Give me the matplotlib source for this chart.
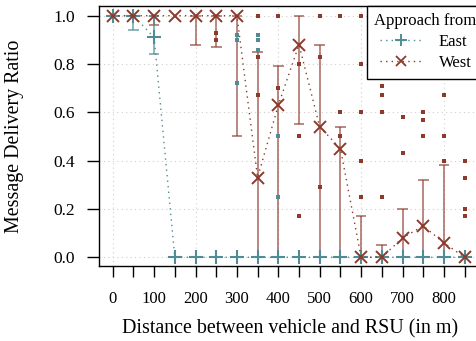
import matplotlib
matplotlib.use("Agg")
import matplotlib.pyplot as plt
from matplotlib.lines import Line2D

plt.rcParams['font.family'] = ['Liberation Serif', 'DejaVu Serif']
plt.rcParams['mathtext.fontset'] = 'stix'

# ---- data ----
distances = [0, 50, 100, 150, 200, 250, 300, 350, 400, 450, 500, 550, 600, 650, 700, 750, 800, 850]
east_mean = [1.0, 1.0, 0.91, 0.0, 0.0, 0.0, 0.0, 0.0, 0.0, 0.0, 0.0, 0.0, 0.0, 0.0, 0.0, 0.0, 0.0, 0.0]
west_mean = [1.0, 1.0, 1.0, 1.0, 1.0, 1.0, 1.0, 0.33, 0.63, 0.88, 0.54, 0.45, 0.0, 0.0, 0.08, 0.13, 0.06, 0.0]

east_whisk_lo = [1.0, 0.94, 0.84, 0.0, 0.0, 0.0, 0.0, 0.0, 0.0, 0.0, 0.0, 0.0, 0.0, 0.0, 0.0, 0.0, 0.0, 0.0]
east_whisk_hi = [1.0, 1.0, 1.0, 0.0, 0.0, 0.0, 0.0, 0.0, 0.0, 0.0, 0.0, 0.0, 0.0, 0.0, 0.0, 0.0, 0.0, 0.0]
west_whisk_lo = [1.0, 1.0, 0.96, 1.0, 0.88, 0.87, 0.50, 0.0, 0.0, 0.55, 0.0, 0.0, 0.0, 0.0, 0.0, 0.0, 0.0, 0.0]
west_whisk_hi = [1.0, 1.0, 1.0, 1.0, 1.0, 1.0, 1.0, 0.85, 0.79, 1.0, 0.88, 0.54, 0.17, 0.05, 0.20, 0.32, 0.38, 0.0]

east_flier_x = [300, 300, 300, 350, 350, 350, 400, 400]
east_flier_y = [0.92, 0.90, 0.72, 0.92, 0.90, 0.86, 0.50, 0.25]
west_flier_x = [250, 250, 350, 350, 350, 400, 400, 450, 450, 450, 500, 500, 500,
                550, 550, 550, 600, 600, 600, 600, 600, 650, 650, 650, 650,
                700, 700, 750, 750, 750, 800, 800, 800, 850, 850, 850, 850]
west_flier_y = [0.93, 0.90, 1.0, 0.83, 0.67, 1.0, 0.70, 0.80, 0.50, 0.17, 1.0, 0.83, 0.29,
                1.0, 0.60, 0.50, 1.0, 0.80, 0.60, 0.40, 0.25, 0.71, 0.67, 0.60, 0.25,
                0.58, 0.43, 0.60, 0.57, 0.50, 0.67, 0.50, 0.40, 0.40, 0.33, 0.20, 0.17]

x_ticks = list(range(0, 851, 50))
x_ticklabels = [str(v) if v % 100 == 0 and v <= 800 else '' for v in x_ticks]
y_ticks = [0.0, 0.2, 0.4, 0.6, 0.8, 1.0]
x_grid = [0, 200, 400, 600, 800]

series_names = ['East', 'West']

# ---- style ----
EAST = '#4f8c94'
WEST = '#8c3a2c'

fig = plt.figure(figsize=(4.76, 3.41), dpi=100)
ax = fig.add_axes([0.208, 0.22, 0.802, 0.763])

for g in y_ticks:
    ax.axhline(g, color='#cfcfcf', lw=0.8, ls=(0, (1, 3)), zorder=0)
for g in x_grid:
    ax.axvline(g, color='#cfcfcf', lw=0.8, ls=(0, (1, 3)), zorder=0)

def draw_whiskers(xs, lo, hi, color, alpha, z):
    for x, a, b in zip(xs, lo, hi):
        if a == b:
            continue
        ax.plot([x, x], [a, b], color=color, lw=1.3, alpha=alpha, zorder=z, solid_capstyle='butt')
        for c in (a, b):
            ax.plot([x - 13, x + 13], [c, c], color=color, lw=1.3, alpha=alpha, zorder=z, solid_capstyle='butt')

draw_whiskers(distances, west_whisk_lo, west_whisk_hi, WEST, 0.65, 2)
draw_whiskers(distances, east_whisk_lo, east_whisk_hi, EAST, 0.7, 2)

ax.plot(east_flier_x, east_flier_y, ls='none', marker='s', ms=2.2, color=EAST, mew=0, zorder=3)
ax.plot(west_flier_x, west_flier_y, ls='none', marker='s', ms=2.2, color=WEST, mew=0, zorder=3)

ax.plot(distances, east_mean, ls=(0, (1, 3)), lw=1.0, color=EAST, marker='+', ms=10.5, mew=1.5,
        zorder=4, label=series_names[0])
ax.plot(distances, west_mean, ls=(0, (1, 3)), lw=1.0, color=WEST, marker='x', ms=8, mew=1.4,
        zorder=5, label=series_names[1])

ax.set_xlim(-33.1, 889)
ax.set_ylim(-0.036, 1.041)
ax.set_xticks(x_ticks)
ax.set_xticklabels(x_ticklabels)
ax.set_yticks(y_ticks)
ax.set_yticklabels([f'{v:.1f}' for v in y_ticks])
ax.tick_params(axis='x', direction='out', length=8, width=1, labelsize=12, pad=10)
ax.tick_params(axis='y', direction='out', length=8.5, width=1, labelsize=12.5, pad=9)
for s in ax.spines.values():
    s.set_linewidth(1.0)

ax.set_xlabel('Distance between vehicle and RSU (in m)', fontsize=14.4)
ax.set_ylabel('Message Delivery Ratio', fontsize=14.4)
ax.xaxis.set_label_coords(0.5, -0.205)
ax.yaxis.set_label_coords(-0.197, 0.5)

handles = [Line2D([], [], ls=(0, (1, 3)), lw=1.0, color=EAST, marker='+', ms=9, mew=1.4),
           Line2D([], [], ls=(0, (1, 3)), lw=1.0, color=WEST, marker='x', ms=7, mew=1.3)]
leg = ax.legend(handles, series_names, title='Approach from', loc='upper left',
                bbox_to_anchor=(0.702, 1.0), fontsize=12, title_fontsize=12,
                fancybox=False, framealpha=1, edgecolor='black', borderaxespad=0,
                handlelength=2.6, borderpad=0.45, labelspacing=0.3, handletextpad=0.95)
leg.get_frame().set_linewidth(1.0)
leg.set_zorder(10)

fig.savefig('out.png', dpi=100)
